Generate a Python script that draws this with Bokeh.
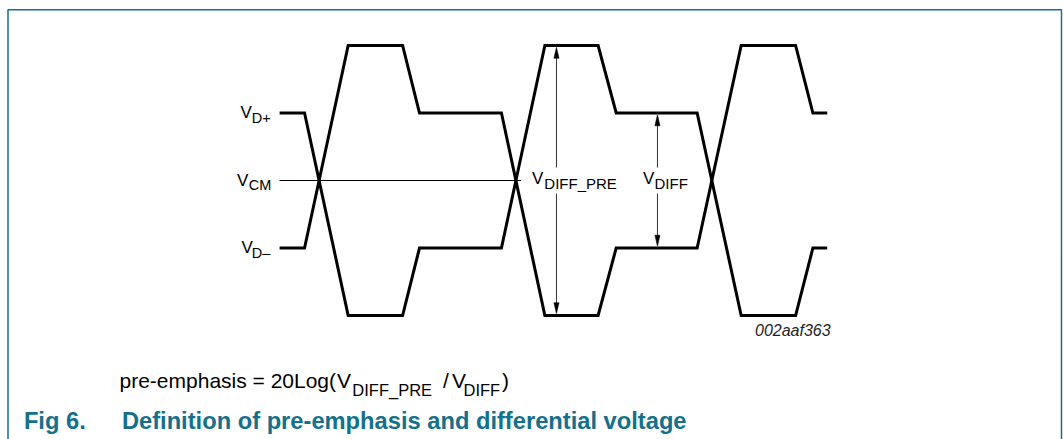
from bokeh.plotting import figure
from bokeh.models import Range1d
from bokeh.core.properties import value
from bokeh.embed import file_html
from bokeh.resources import INLINE

# ---------------- data (time in unit intervals, level in normalised volts) ----------------
t_dplus = [-0.198, -0.071, 0.151, 0.428, 0.514, 0.931, 1.152, 1.423, 1.515, 1.927, 2.151, 2.428, 2.516, 2.589]
v_dplus = [0.5, 0.5, -1.0, -1.0, -0.5, -0.5, 1.0, 1.0, 0.5, 0.5, -1.0, -1.0, -0.5, -0.5]
t_dminus = [-0.198, -0.071, 0.151, 0.428, 0.514, 0.931, 1.152, 1.423, 1.515, 1.927, 2.151, 2.428, 2.516, 2.589]
v_dminus = [-0.5, -0.5, 1.0, 1.0, 0.5, 0.5, -1.0, -1.0, -0.5, -0.5, 1.0, 1.0, 0.5, 0.5]
t_vcm = [-0.198, 1.031]
v_vcm = [0.0, 0.0]

level_names = ["D+", "CM", "D\u2013"]
level_values = [0.5, 0.0, -0.5]

arrow_names = ["DIFF_PRE", "DIFF"]
arrow_t = [1.211, 1.725]
arrow_top = [1.0, 0.5]
arrow_bottom = [-1.0, -0.5]

formula_text = "pre-emphasis = 20Log("
title_number = "Fig 6."
title_text = "Definition of pre-emphasis and differential voltage"
figure_code = "002aaf363"

# ---------------- layout ----------------
W, H = 1063, 439
X0, UI = 318.0, 196.5   # screen px of t=0, px per unit interval
Y0, VU = 180.0, 135.0   # screen px of v=0, px per unit level

def X(sx):
    return (sx - X0) / UI

def Y(sy):
    return (Y0 - sy) / VU

def dx(px):
    return px / UI

def dy(px):
    return px / VU

TEAL = "#14708c"
FONT = value("Liberation Sans")

p = figure(width=W, height=H, output_backend="svg", toolbar_location=None,
           x_range=Range1d(X(0), X(W)), y_range=Range1d(Y(H), Y(0)),
           min_border=0)
p.axis.visible = False
p.grid.visible = False
p.outline_line_color = None
p.background_fill_color = "white"
p.border_fill_color = "white"

# frame border (open at the bottom)
p.line([X(7.5), X(7.5), X(1061), X(1061)], [Y(470), Y(9.3), Y(9.3), Y(470)],
       line_color=TEAL, line_width=1.5)

# common-mode line
p.line(t_vcm, v_vcm, line_color="black", line_width=1)

# waveforms
p.line(t_dplus, v_dplus, line_color="black", line_width=3, line_join="miter")
p.line(t_dminus, v_dminus, line_color="black", line_width=3, line_join="miter")

# measurement arrows
gap_top, gap_bot = Y(167), Y(193)
head_len, head_half = 11, 2.6
for t, top, bot in zip(arrow_t, arrow_top, arrow_bottom):
    tip_top = top - dy(1.8)
    tip_bot = bot + dy(1.8)
    p.segment(x0=[t, t], y0=[tip_top - dy(4), gap_bot], x1=[t, t], y1=[gap_top, tip_bot + dy(4)],
              line_color="#333333", line_width=1)
    p.patches(
        xs=[[t, t - dx(head_half), t + dx(head_half)], [t, t - dx(head_half), t + dx(head_half)]],
        ys=[[tip_top, tip_top - dy(head_len), tip_top - dy(head_len)],
            [tip_bot, tip_bot + dy(head_len), tip_bot + dy(head_len)]],
        fill_color="black", line_color="black", line_width=0.5)

def txt(sx, sy, s, size, color="black", style="normal", align="left"):
    # compensate the renderer's baseline placement
    shift = 0.34 * size
    p.text(x=[X(sx)], y=[Y(sy - shift)], text=[s], text_font=FONT, text_font_size=f"{size}px",
           text_font_style=style, text_color=color, text_align=align,
           text_baseline="alphabetic")

# level labels
v_x = [240.0, 236.5, 241.0]
sub_x = [251.3, 248.3, 251.3]
for name, lv, vx, sx in zip(level_names, level_values, v_x, sub_x):
    base = Y0 - lv * VU
    txt(vx, base + 5.6, "V", 17)
    txt(sx, base + 9.8, name, 14.5)

# arrow labels
txt(531.5, 183.5, "V", 17)
txt(543.8, 188.3, arrow_names[0], 15)
txt(642.5, 183.5, "V", 17)
txt(654.0, 188.3, arrow_names[1], 15)

# figure code
txt(754.5, 335.0, figure_code, 16, color="#222222", style="italic")

# formula
txt(119.0, 387.0, formula_text, 21)
txt(336.5, 387.0, "V", 21)
txt(351.8, 395.5, arrow_names[0], 16.5)
txt(442.5, 387.0, "/", 21)
txt(451.5, 387.0, "V", 21)
txt(463.0, 395.5, arrow_names[1], 16.5)
txt(501.5, 387.0, ")", 21)

# caption
txt(23.4, 428.3, title_number, 23.7, color=TEAL, style="bold")
txt(121.4, 428.3, title_text, 23.7, color=TEAL, style="bold")

open("out.html", "w").write(file_html(p, INLINE))
